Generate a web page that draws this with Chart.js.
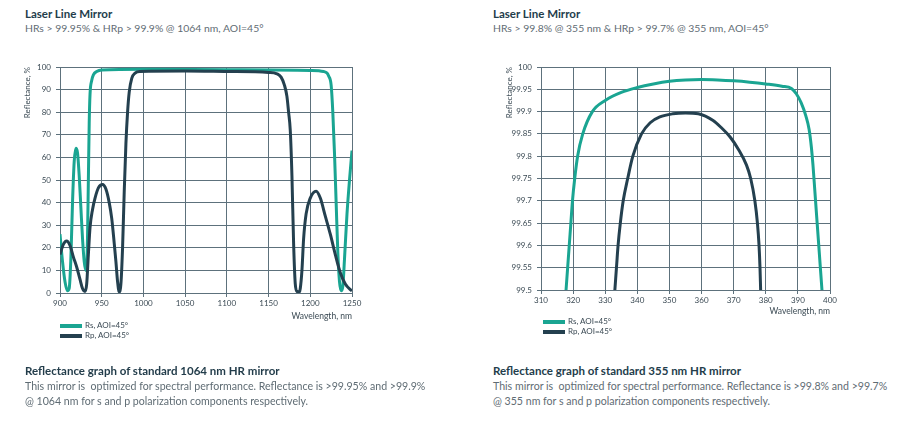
<!DOCTYPE html>
<html><head><meta charset="utf-8">
<script src="https://cdn.jsdelivr.net/npm/chart.js@4"></script>
<style>
html,body{margin:0;padding:0;background:#fff;width:900px;height:426px;overflow:hidden;font-family:Lato,"Open Sans",sans-serif;}
.t{position:absolute;white-space:nowrap;}
.h{font-weight:700;color:#233d4b;font-size:11.5px;}
.s{color:#5f6c74;font-size:10.4px;}
.b{color:#5f6c74;font-size:10.6px;line-height:15px;}
.cv{position:absolute;}
.lg{position:absolute;font-size:8px;color:#3b4a54;white-space:nowrap;}
.lg span{display:inline-block;width:22px;height:4px;vertical-align:middle;margin-right:3px;}
</style></head><body>
<div class="t h" style="left:25px;top:7px;">Laser Line Mirror</div>
<div class="t s" style="left:25px;top:22px;">HRs &gt; 99.95% &amp; HRp &gt; 99.9% @ 1064 nm, AOI=45°</div>
<div class="t h" style="left:493px;top:7px;">Laser Line Mirror</div>
<div class="t s" style="left:493px;top:22px;">HRs &gt; 99.8% @ 355 nm &amp; HRp &gt; 99.7% @ 355 nm, AOI=45°</div>

<div class="cv" style="left:0;top:55px;width:380px;height:270px;"><canvas id="c1"></canvas></div>
<div class="cv" style="left:470px;top:55px;width:390px;height:265px;"><canvas id="c2"></canvas></div>

<div class="lg" style="left:60px;top:320px;"><span style="background:#1aa592"></span>Rs, AOI=45°</div>
<div class="lg" style="left:60px;top:330px;"><span style="background:#24404f"></span>Rp, AOI=45°</div>
<div class="lg" style="left:543px;top:316px;"><span style="background:#1aa592"></span>Rs, AOI=45°</div>
<div class="lg" style="left:543px;top:326px;"><span style="background:#24404f"></span>Rp, AOI=45°</div>

<div class="t h" style="left:25px;top:364px;">Reflectance graph of standard 1064 nm HR mirror</div>
<div class="t b" style="left:25px;top:379px;">This mirror is &nbsp;optimized for spectral performance. Reflectance is &gt;99.95% and &gt;99.9%<br>@ 1064 nm for s and p polarization components respectively.</div>
<div class="t h" style="left:493px;top:364px;">Reflectance graph of standard 355 nm HR mirror</div>
<div class="t b" style="left:493px;top:379px;">This mirror is &nbsp;optimized for spectral performance. Reflectance is &gt;99.8% and &gt;99.7%<br>@ 355 nm for s and p polarization components respectively.</div>

<script>
// ---- Chart 1: 1064 nm mirror ----
const wl1_s = [900,903,906,909,911,913,915,917,919,921,923,925,927,929,931,932,933,934,935,936,938,940,944,950,1000,1100,1200,1216,1220,1222,1225,1227,1229,1231,1233,1235,1237,1239,1241,1244,1247,1250];
const rs1   = [26,14,5,1,2,15,40,58,64,62,52,38,24,14,10,12,25,50,75,88,94,96.5,98,98.7,99,98.8,98.5,98,97.3,96,92,80,62,40,18,5,1,3,15,35,50,63];
const wl1_p = [900,904,908,912,916,920,924,927,930,932,934,936,939,942,946,951,955,959,962,965,967,969,971,973,975,977,979,981,983,986,990,996,1050,1100,1150,1160,1165,1169,1172,1174,1176,1178,1180,1182,1184,1187,1188,1190,1192,1195,1200,1207,1212,1218,1224,1230,1236,1242,1248,1250];
const rp1   = [17,21.5,23,21,16,11.5,6,2,0.7,4,17,29,37,42,46.5,48,46,40,33,22,14,5,0.5,4,20,45,66,80,89,95,97.3,98,98.2,98,97.6,97,95.5,92,87,80,72,52,22,4,0.7,0.5,2,10,24,35,42,45,42,34,26,17,9,4,1.5,1];
const xTicks1 = {min:900, max:1250, step:50};
const yTicks1 = {min:0, max:100, step:10};

// ---- Chart 2: 355 nm mirror ----
const wl2_s = [317.8,318.3,318.8,319.3,319.8,320.5,321.4,323,326,330,335,340,345,350,355,360,365,370,375,380,385,388,389.5,391,392.5,393.5,394.2,394.7,395.3,396,396.7,397.5];
const rs2   = [99.5,99.55,99.6,99.65,99.7,99.75,99.8,99.85,99.9,99.925,99.943,99.954,99.962,99.968,99.971,99.972,99.971,99.969,99.966,99.962,99.957,99.952,99.94,99.92,99.89,99.86,99.82,99.78,99.72,99.65,99.58,99.5];
const wl2_p = [333,333.5,334,334.7,335.6,337,338.6,341.3,344,347,351,355,359,363.6,366,368.9,371.5,374,375.3,376.6,377.4,377.9,378.2,378.4];
const rp2   = [99.5,99.55,99.6,99.65,99.7,99.75,99.8,99.85,99.875,99.888,99.895,99.897,99.895,99.88,99.865,99.843,99.815,99.78,99.75,99.7,99.65,99.6,99.55,99.5];
const xTicks2 = {min:310, max:400, step:10};
const yTicks2 = {min:99.5, max:100, step:0.05};

const seriesNames = ['Rs, AOI=45°','Rp, AOI=45°'];
const colS = '#1aa592', colP = '#24404f', gridCol = '#5d717c', tickCol = '#3b4a54';

function pts(xs, ys){ return xs.map((x,i)=>({x:x, y:ys[i]})); }
const fmt = v => String(+(+v).toFixed(2));

function makeChart(id, xs_s, ys_s, xs_p, ys_p, xt, yt, pad, yw, xh){
  const tickFont = {family:'Lato, "Open Sans", sans-serif', size:8};
  new Chart(document.getElementById(id), {
    type:'line',
    data:{datasets:[
      {label:seriesNames[0], data:pts(xs_s, ys_s), borderColor:colS, borderWidth:3, pointRadius:0, cubicInterpolationMode:'monotone', fill:false, order:2},
      {label:seriesNames[1], data:pts(xs_p, ys_p), borderColor:colP, borderWidth:3, pointRadius:0, cubicInterpolationMode:'monotone', fill:false, order:1}
    ]},
    options:{
      responsive:true, maintainAspectRatio:false, animation:false,
      layout:{padding:pad},
      plugins:{legend:{display:false}, tooltip:{enabled:false}},
      scales:{
        x:{type:'linear', min:xt.min, max:xt.max,
          ticks:{stepSize:xt.step, color:tickCol, font:tickFont, padding:2, maxRotation:0, callback:fmt},
          grid:{color:gridCol, lineWidth:1, tickLength:4},
          border:{color:gridCol, width:1},
          title:{display:true, text:'Wavelength, nm', align:'end', color:tickCol, font:{family:'Lato, "Open Sans", sans-serif', size:8.5}, padding:{top:0,bottom:4}},
          afterFit: s => { s.height = xh; }
        },
        y:{min:yt.min, max:yt.max,
          ticks:{stepSize:yt.step, color:tickCol, font:tickFont, padding:5, callback:fmt},
          grid:{color:gridCol, lineWidth:1, tickLength:4},
          border:{color:gridCol, width:1},
          title:{display:true, text:'Reflectance, %', align:'end', color:tickCol, font:{family:'Lato, "Open Sans", sans-serif', size:8}, padding:4},
          afterFit: s => { s.width = yw; }
        }
      }
    }
  });
}
makeChart('c1', wl1_s, rs1, wl1_p, rp1, xTicks1, yTicks1, {left:19, top:12, right:28, bottom:0}, 41, 32);
makeChart('c2', wl2_s, rs2, wl2_p, rp2, xTicks2, yTicks2, {left:31, top:12, right:30, bottom:0}, 40, 30);
</script>
</body></html>
